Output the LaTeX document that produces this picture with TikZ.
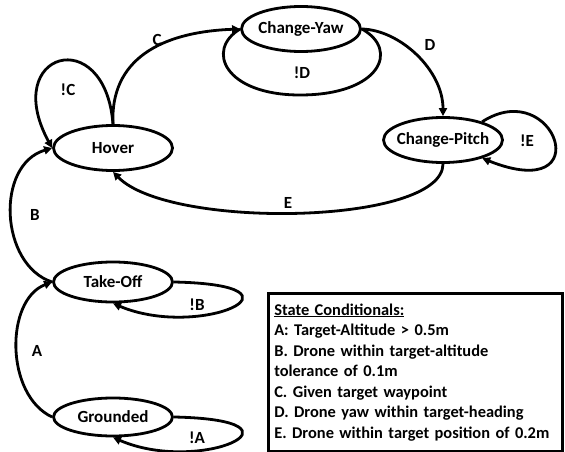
\documentclass[tikz,border=0pt]{standalone}
\usepackage{fontspec}
\setmainfont{Carlito}
\usetikzlibrary{arrows.meta,shapes.geometric}

\begin{document}
\begin{tikzpicture}[x=1pt,y=-1pt,
    state/.style={ellipse,draw,line width=2.8pt,minimum width=119pt,
      minimum height=45pt,inner xsep=-12pt,inner ysep=0pt,
      font=\fontsize{17}{20}\selectfont\bfseries},
    arr/.style={-{Triangle[length=8pt,width=8pt]},line width=2.8pt},
    lbl/.style={font=\fontsize{17}{20}\selectfont\bfseries},
    legend/.style={draw,line width=2.6pt,align=left,text width=282pt,
      inner xsep=6pt,minimum height=158pt,
      font=\fontsize{16.4}{20.5}\selectfont\bfseries}]
    \useasboundingbox (0,0) rectangle (565,452);
    % states
    \node[state] (hov) at (113,148) {Hover};
    \node[state] (yaw) at (301,29) {Change-Yaw};
    \node[state] (pitch) at (443,140) {Change-Pitch};
    \node[state,minimum height=40pt] (tof) at (113,282) {Take-Off};
    \node[state,minimum height=38pt] (gnd) at (113,417) {Grounded};
    % transitions
    \draw[arr] (gnd.west) .. controls (5,395) and (5,300) .. (tof.west);
    \draw[arr] (tof.west) .. controls (0,265) and (-5,165) .. (hov.west);
    \draw[arr] (hov.north) .. controls (110,60) and (160,32) .. (yaw.west);
    \draw[arr] (yaw.east) .. controls (400,30) and (443,70) .. (pitch.north);
    \draw[arr] (pitch.south) .. controls (443,225) and (170,230) .. (hov.south);
    % self loops
    \draw[arr] (hov.north) .. controls (105,22) and (0,52) .. (hov.west);
    \draw[line width=2.8pt] (yaw.east) .. controls (400,50) and (380,95) .. (300,95)
      .. controls (225,95) and (205,50) .. (yaw.west);
    \draw[arr] (pitch.25) .. controls (555,75) and (600,205) .. (pitch.-25);
    \draw[arr] (tof.east) .. controls (320,285) and (200,340) .. (tof.south);
    \draw[arr] (gnd.east) .. controls (320,420) and (200,475) .. (gnd.south);
    % labels
    \node[lbl] (lA) at (37,351) {A};
    \node[lbl] (lB) at (35,215) {B};
    \node[lbl] (lC) at (157,40) {C};
    \node[lbl] (lD) at (430,45) {D};
    \node[lbl] (lE) at (288,203) {E};
    \node[lbl] (lnA) at (197,438) {!A};
    \node[lbl] (lnB) at (197,305) {!B};
    \node[lbl] (lnC) at (68,90) {!C};
    \node[lbl] (lnD) at (302,73) {!D};
    \node[lbl] (lnE) at (527,141) {!E};
    % conditions
    \node[legend,anchor=north west] (cond) at (267,292)
      {\underline{State Conditionals:}\\
       A: Target-Altitude > 0.5m\\
       B. Drone within target-altitude\\
       tolerance of 0.1m\\
       C. Given target waypoint\\
       D. Drone yaw within target-heading\\
       E. Drone within target position of 0.2m};
  \end{tikzpicture}
\end{document}
